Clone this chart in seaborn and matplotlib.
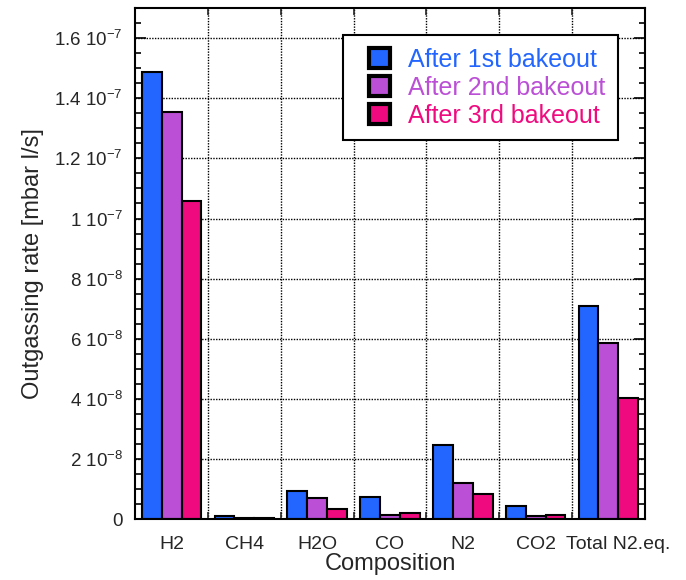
import matplotlib
matplotlib.use("Agg")
import matplotlib.pyplot as plt
import matplotlib.patches as mpatches
import matplotlib.transforms as mtransforms
from matplotlib.legend_handler import HandlerPatch
import seaborn as sns
import pandas as pd
import numpy as np
from matplotlib.ticker import FixedLocator, MultipleLocator

categories = ["H2", "CH4", "H2O", "CO", "N2", "CO2", "Total N2.eq."]
series_names = ["After 1st bakeout", "After 2nd bakeout", "After 3rd bakeout"]
bake1 = [1.488e-7, 0.10e-8, 0.94e-8, 0.75e-8, 2.46e-8, 0.43e-8, 7.09e-8]
bake2 = [1.354e-7, 0.04e-8, 0.71e-8, 0.14e-8, 1.19e-8, 0.09e-8, 5.86e-8]
bake3 = [1.058e-7, 0.04e-8, 0.33e-8, 0.20e-8, 0.82e-8, 0.14e-8, 4.02e-8]
ytick_values = [0, 2e-8, 4e-8, 6e-8, 8e-8, 1e-7, 1.2e-7, 1.4e-7, 1.6e-7]
ytick_labels = ["0", "2 10$^{-8}$", "4 10$^{-8}$", "6 10$^{-8}$", "8 10$^{-8}$",
                "1 10$^{-7}$", "1.2 10$^{-7}$", "1.4 10$^{-7}$", "1.6 10$^{-7}$"]
colors = ["#2266FF", "#BB4FD6", "#F00A80"]

df = pd.DataFrame({
    "Composition": categories * 3,
    "rate": bake1 + bake2 + bake3,
    "series": [s for s in series_names for _ in categories],
})

sns.set_style("ticks")
plt.rcParams["font.family"] = ["Liberation Sans", "DejaVu Sans"]
plt.rcParams["mathtext.fontset"] = "custom"
plt.rcParams["mathtext.rm"] = "Liberation Sans"
plt.rcParams["mathtext.it"] = "Liberation Sans"

fig = plt.figure(figsize=(6.86, 5.8), dpi=100)
ax = fig.add_axes([0.197, 0.105, 0.743, 0.881])

sns.barplot(data=df, x="Composition", y="rate", hue="series", palette=colors,
            edgecolor="black", linewidth=1.5, width=0.82, gap=0, ax=ax,
            saturation=1, errorbar=None)

ax.set_ylim(0, 1.7e-7)
ax.set_xlim(-0.5, len(categories) - 0.5)
ax.yaxis.set_major_locator(FixedLocator(ytick_values))
ax.set_yticklabels(ytick_labels)
ax.yaxis.set_minor_locator(MultipleLocator(0.5e-8))
ax.xaxis.set_minor_locator(FixedLocator(np.arange(0.5, len(categories) - 1, 1.0)))

ax.tick_params(axis="y", which="both", direction="in", left=True, right=True,
               labelsize=13.5, width=1.2, color="black", pad=9)
ax.tick_params(axis="y", which="major", length=8)
ax.tick_params(axis="y", which="minor", length=4)
ax.tick_params(axis="x", which="major", length=0, labelsize=14, pad=12)
ax.tick_params(axis="x", which="minor", direction="in", top=True, bottom=True,
               length=5, width=1.2)

# the last category label sits a little right of its group in the original
last = ax.get_xticklabels()[-1]
last.set_transform(last.get_transform() +
                   mtransforms.ScaledTranslation(10 / 100, 0, fig.dpi_scale_trans))

for y in ytick_values[1:]:
    ax.axhline(y, color="black", linestyle=(0, (1, 1)), linewidth=1.0, zorder=0)
for x in np.arange(0.5, len(categories) - 1, 1.0):
    ax.axvline(x, color="black", linestyle=(0, (1, 1)), linewidth=1.0, zorder=0)

for sp in ax.spines.values():
    sp.set_visible(True)
    sp.set_linewidth(1.5)
    sp.set_color("black")

ax.set_xlabel("Composition", fontsize=17, labelpad=0)
ax.set_ylabel("Outgassing rate [mbar l/s]", fontsize=17, labelpad=7)


def square_patch(legend, orig_handle, xdescent, ydescent, width, height, fontsize):
    s = height
    return mpatches.Rectangle((-xdescent + width - s, -ydescent), s, s)


leg = ax.legend(loc="upper right", bbox_to_anchor=(0.947, 0.947), fontsize=18,
                frameon=True, fancybox=False, edgecolor="black", framealpha=1,
                handlelength=1.38, handleheight=0.9, handletextpad=0.72,
                labelspacing=0.16, borderpad=0.5, borderaxespad=0,
                handler_map={mpatches.Rectangle: HandlerPatch(patch_func=square_patch)})
leg.get_frame().set_linewidth(1.5)
for txt, c in zip(leg.get_texts(), colors):
    txt.set_color(c)
for h in leg.legend_handles:
    h.set_linewidth(3)
    h.set_edgecolor("black")

fig.savefig("out.png", dpi=100)
